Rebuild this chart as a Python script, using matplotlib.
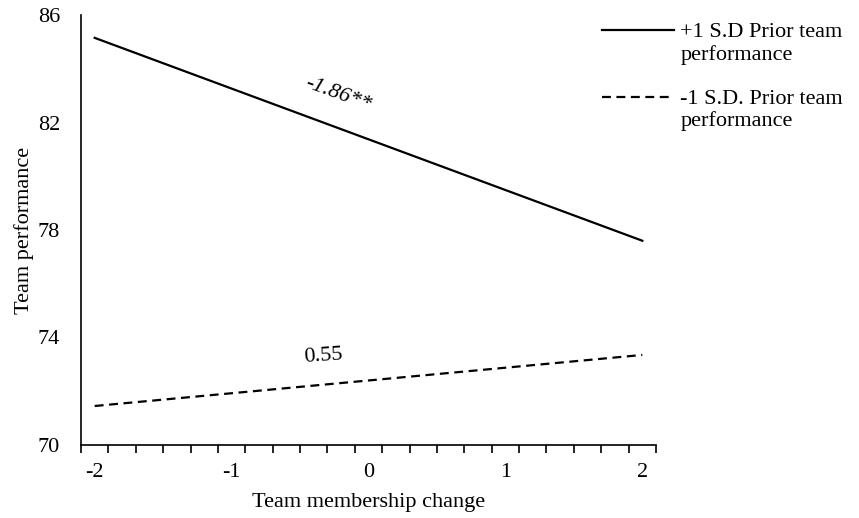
import numpy as np
import matplotlib
matplotlib.use("Agg")
import matplotlib.pyplot as plt
from matplotlib.legend_handler import HandlerLine2D

plt.rcParams['font.family'] = ['Liberation Serif', 'DejaVu Serif']

# membership change at -2 and +2 SD
x_vals = [-2, 2]
high_prior = [85.15, 77.6]   # +1 S.D prior team performance
low_prior = [71.45, 73.35]   # -1 S.D prior team performance
x_labels = [-2, -1, 0, 1, 2]
y_ticks = [70, 74, 78, 82, 86]

FS = 16
LSP = 1.15


class FirstLineHandler(HandlerLine2D):
    # put the legend key beside the first line of a two-line label
    def create_artists(self, legend, orig_handle, xdescent, ydescent,
                       width, height, fontsize, trans):
        arts = super().create_artists(legend, orig_handle, xdescent, ydescent,
                                      width, height, fontsize, trans)
        for a in arts:
            a.set_ydata(np.asarray(a.get_ydata()) + 0.5 * LSP * fontsize)
        return arts


fig = plt.figure(figsize=(8.59, 5.18), dpi=100)
ax = fig.add_axes([0.0943, 0.141, 0.6694, 0.830])

ax.plot(x_vals, high_prior, color='black', lw=1.6, label='+1 S.D Prior team\nperformance')
ax.plot(x_vals, low_prior, color='black', lw=1.6, linestyle=(0, (4, 2.5)),
        label='-1 S.D. Prior team\nperformance')

# slope annotations
ax.text(-0.22, 83.05, '-1.86**', fontsize=FS, fontstyle='italic',
        rotation=-20, ha='center', va='center')
ax.text(-0.33, 73.3, '0.55', fontsize=FS, rotation=4, ha='center', va='center')

ax.set_xlim(-2.1, 2.1)
ax.set_ylim(70, 86)
ax.set_xticks(x_labels)
ax.set_xticklabels([str(v) for v in x_labels])
ax.set_xticks(np.arange(-2.1, 2.11, 0.2), minor=True)
ax.set_yticks(y_ticks)
ax.tick_params(axis='x', which='major', length=0, pad=13, labelsize=FS)
ax.tick_params(axis='x', which='minor', length=6, width=1.2, direction='out')
ax.tick_params(axis='y', length=0, pad=15, labelsize=FS)

for side in ['top', 'right']:
    ax.spines[side].set_visible(False)
for side in ['left', 'bottom']:
    ax.spines[side].set_linewidth(1.2)

ax.set_xlabel('Team membership change', fontsize=FS, labelpad=8)
ax.set_ylabel('Team performance', fontsize=FS, labelpad=3)

leg = ax.legend(loc='upper left', bbox_to_anchor=(0.691, 0.972), bbox_transform=fig.transFigure,
                frameon=False, fontsize=FS, handlelength=3.2, handletextpad=0.3,
                labelspacing=1.15, borderaxespad=0,
                handler_map={plt.Line2D: FirstLineHandler()})
for t in leg.get_texts():
    t.set_linespacing(LSP)

fig.savefig('out.png', dpi=100)
